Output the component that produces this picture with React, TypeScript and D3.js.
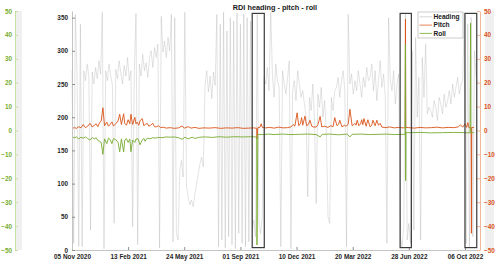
import { useEffect, useRef } from "react";
import * as d3 from "d3";

// days counted from 05 Nov 2020
const startDate = Date.UTC(2020, 10, 5);
const lastDay = 725;
const tickDays = [0, 100, 200, 300, 400, 500, 600, 700];
const headingTicks = [0, 50, 100, 150, 200, 250, 300, 350];
const angleTicks = [-50, -40, -30, -20, -10, 0, 10, 20, 30, 40, 50];

// heading (deg), one value every 3 days
const headingStep = 3;
const heading = [
  270, 10, 355, 265, 5,
  340, 5, 270, 255, 280, 262, 30, 268, 250, 275, 258, 285, 265, 358, 2, 270, 255, 280, 262, 248,
  40, 272, 258, 285, 266, 250, 278, 262, 290, 255, 270, 35, 268, 356, 8, 280, 262, 295, 270, 282,
  260, 288, 300, 275, 305, 290, 310, 3, 352, 298, 315, 290, 320,
  300, 355, 12, 350, 25, 15,
  120, 135, 110, 358, 95, 80, 68, 75, 65, 85, 100, 115, 130, 140, 125,
  250, 270, 238, 262, 228, 268, 248,
  355, 5, 340, 15, 358, 3, 330, 20, 350, 8, 345, 2, 357, 25, 340, 10, 355, 5, 350, 12, 345,
  30, 45, 20, 355, 40, 25, 50,
  260, 250, 275, 240, 358, 265, 230, 280, 255, 245, 5, 270, 250, 235, 260, 285, 2, 240, 255, 225,
  270, 250, 230,
  240, 220, 200, 80, 230, 210, 250, 195, 70, 235, 215, 245, 200, 225, 180, 50, 40, 230, 210, 240,
  245, 260, 230, 255, 270, 240, 5, 355, 250, 265, 235, 255, 240, 270, 250, 230, 260, 245, 275, 255,
  260, 280, 240, 270, 225, 255, 285, 245, 265, 230, 10, 350, 255, 240, 270, 220, 250, 265,
  20, 5, 35, 355, 15, 40, 10,
  300, 30, 320, 200, 260, 15, 290, 230, 310, 205, 215,
  210, 200, 225, 215, 195, 230, 220, 205, 235, 215, 225, 240, 220, 250, 230, 245, 260, 235, 250, 255,
  355, 10, 340, 5, 350, 20, 300,
  260, 250,
];

// pitch [day, deg]
const pitch = [
  [0, 0.8], [4, 1.2], [8, 0.9], [12, 1.6], [16, 1.1], [20, 2.5], [24, 1.2], [28, 1.8], [32, 3.0],
  [36, 1.5], [40, 2.2], [43, 2.8], [46, 1.6], [49, 3.2], [52, 4.0], [55, 9.5], [58, 2.0], [62, 3.5],
  [65, 1.8], [68, 2.6], [71, 3.6], [74, 1.9], [78, 2.8], [82, 4.0], [85, 6.8], [88, 2.5], [92, 7.0],
  [94, 3.0], [97, 2.2], [100, 4.5], [103, 2.8], [105, 6.8], [108, 2.5], [112, 5.5], [114, 2.8],
  [116, 3.5], [119, 2.2], [121, 4.0], [125, 5.0], [128, 2.0], [131, 2.6], [134, 3.0], [137, 1.8],
  [140, 2.2], [144, 3.0], [147, 1.6], [150, 1.5], [154, 2.0], [158, 1.2], [162, 1.4], [168, 1.0],
  [175, 1.2], [182, 0.9], [190, 1.1], [196, 1.9], [200, 1.0], [207, 1.6], [212, 1.0], [219, 1.3],
  [226, 0.9], [235, 1.1], [245, 1.0], [255, 1.2], [265, 0.9], [275, 1.1], [285, 1.0], [295, 1.2],
  [305, 0.9], [315, 1.0], [324, 1.1], [329, 0.9], [329.5, -3.5], [331, 1.2], [335, 1.4], [337, 2.8],
  [339, 1.3], [345, 1.1], [352, 1.3], [360, 1.0], [368, 1.4], [376, 1.1], [384, 1.2], [390, 1.5],
  [394, 2.5], [397, 1.8], [401, 7.4], [404, 2.0], [407, 3.0], [409, 5.4], [411, 2.2], [415, 6.0],
  [418, 2.0], [421, 2.5], [424, 4.3], [427, 1.8], [431, 1.4], [435, 1.5], [438, 2.4], [442, 5.9],
  [445, 1.5], [450, 1.8], [456, 1.3], [461, 2.0], [465, 1.6], [468, 5.4], [472, 2.0], [475, 2.6],
  [477, 4.3], [481, 1.5], [485, 2.2], [488, 1.8], [492, 2.6], [495, 8.9], [499, 2.0], [502, 2.5],
  [504, 3.0], [506, 2.2], [508, 4.3], [511, 2.0], [514, 2.8], [516, 4.5], [518, 2.4], [520, 5.0],
  [524, 1.8], [527, 4.5], [531, 1.5], [534, 2.2], [536, 4.3], [540, 2.0], [543, 4.3], [546, 2.2],
  [549, 3.0], [552, 1.4], [559, 1.2], [566, 1.5], [574, 1.1], [582, 1.3], [590, 1.1], [593.5, 1.2],
  [594, 46.6], [594.5, 1.3], [600, 1.2], [610, 1.0], [620, 1.3], [630, 1.1], [640, 1.2], [650, 1.4],
  [660, 1.1], [670, 1.3], [680, 1.2], [688, 1.5], [692, 2.4], [696, 1.4], [700, 2.8], [703, 1.3],
  [705, 3.3], [707, 1.2], [711, 1.2], [711.5, -43], [712, 1.2], [716, 1.3],
];

// roll [day, deg]
const roll = [
  [0, -2.6], [4, -3.0], [8, -2.7], [12, -3.5], [16, -2.8], [20, -3.2], [24, -2.7], [28, -3.4],
  [32, -4.0], [36, -3.0], [40, -3.5], [43, -3.0], [46, -4.2], [49, -4.5], [52, -5.0], [55, -10.0],
  [58, -3.5], [62, -5.5], [65, -3.2], [68, -3.8], [71, -5.5], [74, -3.4], [78, -3.8], [82, -5.0],
  [85, -8.9], [88, -3.5], [92, -9.0], [94, -4.0], [97, -3.4], [100, -5.0], [103, -3.6], [105, -8.9],
  [108, -4.0], [112, -5.0], [114, -3.6], [118, -3.5], [121, -6.0], [125, -4.0], [128, -3.3],
  [130, -4.5], [134, -3.2], [139, -3.5], [144, -3.0], [148, -3.2], [154, -2.9], [160, -3.0],
  [168, -2.7], [175, -2.8], [182, -2.7], [190, -3.0], [196, -3.7], [201, -2.8], [207, -3.5],
  [214, -2.8], [219, -3.3], [228, -2.8], [238, -2.7], [250, -2.9], [262, -2.6], [275, -2.8],
  [290, -2.6], [305, -2.7], [318, -2.6], [327, -2.7], [329, -2.9], [329.5, -47.9], [331, -1.6],
  [340, -1.7], [350, -1.5], [360, -1.7], [375, -1.5], [390, -1.7], [405, -1.6], [420, -1.5],
  [435, -1.7], [442, -2.7], [446, -1.6], [460, -1.5], [475, -1.8], [490, -1.5], [495, -2.7],
  [499, -1.6], [515, -1.5], [530, -1.7], [545, -1.6], [560, -1.5], [575, -1.7], [590, -1.6],
  [593.5, -1.6], [594, 36], [594.3, -21], [594.8, -0.9], [605, -0.9], [620, -0.8], [640, -1.0],
  [660, -0.9], [680, -0.8], [700, -0.9], [709, -1.0], [710, 45], [710.5, -0.9], [716, -0.9],
];

// highlighted periods [from day, to day] and their vertical span (deg, right axis)
const boxes = [[321, 342.5], [584.5, 604.5], [700, 721]];
const boxSpan = [-49, 49];

const legendLabels = ["Heading", "Pitch", "Roll"];

const FONT = "'Liberation Sans', Arial, Helvetica, sans-serif";
const ORANGE = "#D95319";
const GREEN = "#77AC30";

const toDate = (d: number) => new Date(startDate + d * 864e5);

export default function App() {
  const ref = useRef<SVGSVGElement>(null);

  function drawChart() {
    const svg = d3.select(ref.current);
    svg.selectAll("*").remove();

    const x = d3.scaleUtc().domain([toDate(0), toDate(lastDay)]).range([72, 479]);
    const yH = d3.scaleLinear().domain([0, 360]).range([250, 11]);
    const yA = d3.scaleLinear().domain([-50, 50]).range([250, 11]);

    // side strips
    svg.append("rect").attr("x", 15).attr("y", 11).attr("width", 7).attr("height", 239).attr("fill", "#f0f0f0");
    svg.append("rect").attr("x", 485).attr("y", 11).attr("width", 9).attr("height", 239).attr("fill", "#f0f0f0");

    // heading
    const hLine = d3
      .line<number>()
      .x((d, i) => x(toDate(i * headingStep)))
      .y((d) => yH(d));
    svg
      .append("path")
      .attr("d", hLine(heading))
      .attr("fill", "none")
      .attr("stroke", "#a8a8a8")
      .attr("stroke-opacity", 0.55)
      .attr("stroke-width", 0.6);

    const aLine = d3
      .line<number[]>()
      .x((d) => x(toDate(d[0])))
      .y((d) => yA(d[1]));

    svg.append("path").attr("d", aLine(pitch)).attr("fill", "none").attr("stroke", ORANGE).attr("stroke-width", 0.9);
    svg.append("path").attr("d", aLine(roll)).attr("fill", "none").attr("stroke", GREEN).attr("stroke-width", 0.9);

    // main x axis
    const xAxis = d3
      .axisBottom(x)
      .tickValues(tickDays.map(toDate))
      .tickFormat((d) => d3.utcFormat("%d %b %Y")(d as Date))
      .tickSizeInner(-3)
      .tickSizeOuter(0)
      .tickPadding(4);
    const gx = svg.append("g").attr("transform", "translate(0,250)").call(xAxis);
    gx.select(".domain").attr("stroke", "#c4c4c4");
    gx.selectAll(".tick line").attr("stroke", "#8c8c8c");
    gx.selectAll("text").attr("font-family", FONT).attr("font-size", 6.4).attr("font-weight", "bold").attr("fill", "#262626");

    // heading axis
    const yAxis = d3.axisLeft(yH).tickValues(headingTicks).tickSizeInner(-3).tickSizeOuter(0).tickPadding(4);
    const gy = svg.append("g").attr("transform", "translate(72,0)").call(yAxis);
    gy.select(".domain").attr("stroke", "#c4c4c4");
    gy.selectAll(".tick line").attr("stroke", "#8c8c8c");
    gy.selectAll("text").attr("font-family", FONT).attr("font-size", 6.4).attr("font-weight", "bold").attr("fill", "#262626");

    // pitch axis (right)
    const rAxis = d3.axisRight(yA).tickValues(angleTicks).tickSizeInner(-3).tickSizeOuter(0).tickPadding(4);
    const gr = svg.append("g").attr("transform", "translate(480,0)").call(rAxis);
    gr.select(".domain").attr("stroke", "#f1b89c");
    gr.selectAll(".tick line").attr("stroke", "#f1b89c");
    gr.selectAll("text").attr("font-family", FONT).attr("font-size", 6.4).attr("font-weight", "bold").attr("fill", ORANGE);

    // roll axis (far left)
    const lAxis = d3.axisLeft(yA).tickValues(angleTicks).tickSizeInner(-3).tickSizeOuter(0).tickPadding(3);
    const gl = svg.append("g").attr("transform", "translate(15,0)").call(lAxis);
    gl.select(".domain").attr("stroke", "#c6dfa4");
    gl.selectAll(".tick line").attr("stroke", "#c6dfa4");
    gl.selectAll("text").attr("font-family", FONT).attr("font-size", 6.4).attr("font-weight", "bold").attr("fill", GREEN);

    // boxes
    svg
      .append("g")
      .selectAll("rect")
      .data(boxes)
      .enter()
      .append("rect")
      .attr("x", (d) => x(toDate(d[0])))
      .attr("width", (d) => x(toDate(d[1])) - x(toDate(d[0])))
      .attr("y", yA(boxSpan[1]))
      .attr("height", yA(boxSpan[0]) - yA(boxSpan[1]))
      .attr("fill", "none")
      .attr("stroke", "#3a3a3a")
      .attr("stroke-width", 1.2);

    // title
    svg
      .append("text")
      .attr("x", 275)
      .attr("y", 9.5)
      .attr("text-anchor", "middle")
      .attr("font-family", FONT)
      .attr("font-size", 7.3)
      .attr("font-weight", "bold")
      .attr("fill", "#1a1a1a")
      .text("RDI heading - pitch - roll");

    // legend
    const colors = ["#d6d6d6", "#e8835a", "#8fbd55"];
    const lg = svg.append("g").attr("transform", "translate(418,12)");
    lg.append("rect").attr("width", 45).attr("height", 26).attr("fill", "#fff").attr("stroke", "#a8a8a8").attr("stroke-width", 0.6);
    legendLabels.forEach((name, i) => {
      const yy = 4.8 + i * 8.3;
      lg.append("line").attr("x1", 1.5).attr("x2", 14).attr("y1", yy).attr("y2", yy).attr("stroke", colors[i]).attr("stroke-width", 1);
      lg.append("text")
        .attr("x", 15.5)
        .attr("y", yy + 2.3)
        .attr("font-family", FONT)
        .attr("font-size", 6.6)
        .attr("font-weight", "bold")
        .attr("fill", "#1a1a1a")
        .text(name);
    });
  }

  useEffect(() => {
    drawChart();
  }, []);

  return (
    <svg
      ref={ref}
      width={500}
      height={265}
      style={{ position: "absolute", left: 0, top: 0, background: "#fff" }}
    ></svg>
  );
}
